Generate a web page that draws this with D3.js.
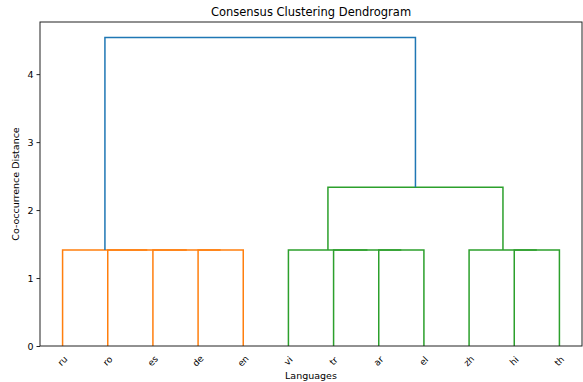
<!DOCTYPE html>
<html>
<head>
<meta charset="utf-8">
<script src="https://cdn.jsdelivr.net/npm/d3@7"></script>
<style>
  html, body { margin: 0; padding: 0; background: #fff; }
  text { font-family: "DejaVu Sans", sans-serif; fill: #000; }
</style>
</head>
<body>
<svg id="chart" width="583" height="382"></svg>
<script>
// ---- data ----
const leaves = ["ru", "ro", "es", "de", "en", "vi", "tr", "ar", "el", "zh", "hi", "th"];
// merges: [leftNode, rightNode, height]; node ids 0..11 are leaves, 12+ are merges in order
const mergeLeft   = [3, 2, 1, 0, 7, 6, 5, 10, 9, 18, 15];
const mergeRight  = [4, 12, 13, 14, 8, 16, 17, 11, 19, 20, 21];
const mergeHeight = [1.414, 1.414, 1.414, 1.414, 1.414, 1.414, 1.414, 1.414, 1.414, 2.334, 4.54];
const mergeColor  = ["#ff7f0e", "#ff7f0e", "#ff7f0e", "#ff7f0e",
                     "#2ca02c", "#2ca02c", "#2ca02c", "#2ca02c", "#2ca02c", "#2ca02c",
                     "#1f77b4"];
const yTicks = [0, 1, 2, 3, 4];

// ---- layout ----
const W = 583, H = 382;
const M = { left: 40, right: 1, top: 22, bottom: 36 };
const svg = d3.select("#chart");

const nLeaves = leaves.length;
const x = d3.scaleLinear().domain([0, nLeaves * 10]).range([M.left, W - M.right]);
const yMax = d3.max(mergeHeight) * 1.05;
const y = d3.scaleLinear().domain([0, yMax]).range([H - M.bottom, M.top]);

// node positions (scipy style: leaves at 5 + 10 i, merges at midpoint)
const nodeX = leaves.map((_, i) => 5 + 10 * i);
const nodeY = leaves.map(() => 0);
mergeLeft.forEach((l, k) => {
  nodeX.push((nodeX[l] + nodeX[mergeRight[k]]) / 2);
  nodeY.push(mergeHeight[k]);
});

// links
const g = svg.append("g");
mergeLeft.forEach((l, k) => {
  const r = mergeRight[k], h = mergeHeight[k];
  const pts = [[nodeX[l], nodeY[l]], [nodeX[l], h], [nodeX[r], h], [nodeX[r], nodeY[r]]];
  g.append("path")
    .attr("d", d3.line().x(d => x(d[0])).y(d => y(d[1]))(pts))
    .attr("fill", "none")
    .attr("stroke", mergeColor[k])
    .attr("stroke-width", 1.5);
});

// frame
svg.append("rect")
  .attr("x", M.left).attr("y", M.top)
  .attr("width", W - M.right - M.left).attr("height", H - M.bottom - M.top)
  .attr("fill", "none").attr("stroke", "#222").attr("stroke-width", 1);

// y axis
const yAxis = svg.append("g")
  .attr("transform", `translate(${M.left},0)`)
  .call(d3.axisLeft(y).tickValues(yTicks).tickFormat(d3.format("d")).tickSize(3.5).tickPadding(3));
yAxis.select(".domain").remove();
yAxis.selectAll("line").attr("stroke", "#222");
yAxis.selectAll("text").style("font-family", "DejaVu Sans").style("font-size", "9.5px").attr("fill", "#000");

// x tick labels (leaves)
const xl = svg.append("g");
leaves.forEach((lab, i) => {
  const cx = x(nodeX[i]), cy = H - M.bottom + 15;
  xl.append("text")
    .attr("transform", `translate(${cx},${cy}) rotate(-45)`)
    .attr("text-anchor", "middle")
    .attr("dominant-baseline", "central")
    .style("font-size", "9px")
    .text(lab);
});

// title & axis labels
svg.append("text")
  .attr("x", (M.left + W - M.right) / 2).attr("y", 16)
  .attr("text-anchor", "middle").style("font-size", "11.5px")
  .text("Consensus Clustering Dendrogram");

svg.append("text")
  .attr("x", (M.left + W - M.right) / 2).attr("y", 379)
  .attr("text-anchor", "middle").style("font-size", "9.5px")
  .text("Languages");

svg.append("text")
  .attr("transform", `translate(19,${(M.top + H - M.bottom) / 2}) rotate(-90)`)
  .attr("text-anchor", "middle").style("font-size", "9.5px")
  .text("Co-occurrence Distance");
</script>
</body>
</html>
